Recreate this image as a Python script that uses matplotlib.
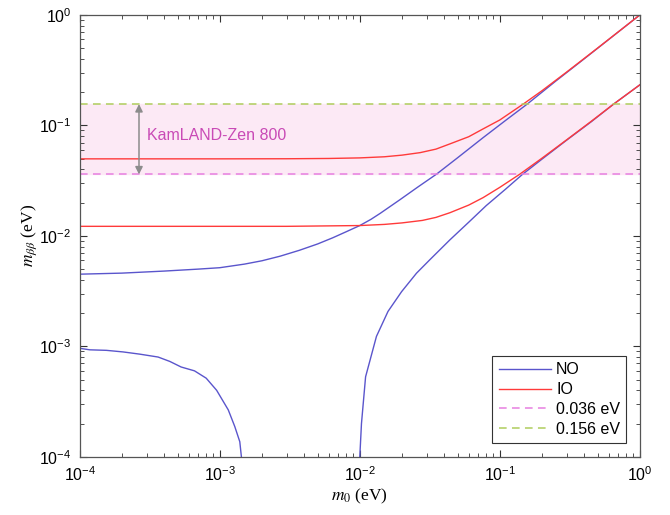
import matplotlib
matplotlib.use("Agg")
import matplotlib.pyplot as plt

plt.rcParams['font.family'] = ['Liberation Sans', 'DejaVu Sans']
plt.rcParams['mathtext.fontset'] = 'stix'

# curves (m0 in eV, m_bb in eV)
no_up_x = [1e-4, 2e-4, 4e-4, 7e-4, 1e-3, 1.5e-3, 2e-3, 2.7e-3, 3.7e-3, 5e-3, 6.4e-3, 8e-3, 1e-2, 1.2e-2,
           1.4e-2, 1.93e-2, 2.6e-2, 3.53e-2, 5e-2, 7.6e-2, 0.11, 0.158, 0.25, 0.39, 0.6, 1.0]
no_up_y = [4.5e-3, 4.6e-3, 4.8e-3, 5.0e-3, 5.15e-3, 5.55e-3, 5.95e-3, 6.55e-3, 7.4e-3, 8.45e-3, 9.6e-3, 1.09e-2,
           1.24e-2, 1.41e-2, 1.6e-2, 2.12e-2, 2.77e-2, 3.62e-2, 5.1e-2, 7.75e-2, 0.111, 0.157, 0.251, 0.39, 0.6, 1.0]

no_lo1_x = [1e-4, 1.18e-4, 1.55e-4, 2.04e-4, 2.68e-4, 3.63e-4, 4.4e-4, 5.3e-4, 6.6e-4, 8.0e-4, 9.5e-4, 1.15e-3, 1.28e-3, 1.39e-3, 1.44e-3]
no_lo1_y = [9.6e-4, 9.3e-4, 9.2e-4, 8.9e-4, 8.5e-4, 8.0e-4, 7.3e-4, 6.5e-4, 6.0e-4, 5.15e-4, 4.0e-4, 2.66e-4, 1.88e-4, 1.37e-4, 9e-5]

no_lo2_x = [1.0e-2, 1.028e-2, 1.1e-2, 1.315e-2, 1.59e-2, 1.99e-2, 2.54e-2, 3.16e-2, 4.4e-2, 6e-2, 8e-2,
            0.11, 0.145, 0.2, 0.3, 0.45, 0.65, 1.0]
no_lo2_y = [1e-4, 2.0e-4, 5.3e-4, 1.23e-3, 2.07e-3, 3.13e-3, 4.59e-3, 6.07e-3, 9.2e-3, 1.33e-2, 1.88e-2,
            0.0265, 0.036, 0.0495, 0.0735, 0.108, 0.156, 0.233]

io_up_x = [1e-4, 1e-3, 3e-3, 6e-3, 1e-2, 1.5e-2, 2e-2, 2.7e-2, 3.5e-2, 4.4e-2, 6e-2, 7.6e-2, 0.1, 0.147, 0.2, 0.3, 0.5, 1.0]
io_up_y = [0.0498, 0.0498, 0.0499, 0.0502, 0.0508, 0.052, 0.0538, 0.0567, 0.061, 0.068, 0.079, 0.093, 0.112, 0.156,
           0.206, 0.304, 0.502, 1.0]

io_lo_x = [1e-4, 3e-3, 1e-2, 1.5e-2, 2e-2, 2.8e-2, 3.5e-2, 4.4e-2, 6e-2, 7.6e-2, 0.1, 0.139, 0.2, 0.3, 0.45, 0.65, 1.0]
io_lo_y = [0.0122, 0.0122, 0.0124, 0.0127, 0.0131, 0.0138, 0.0147, 0.0162, 0.019, 0.0222, 0.0275, 0.0362, 0.0505,
           0.074, 0.109, 0.156, 0.233]

klz_low = 0.036
klz_high = 0.156

blue = '#5a55cc'
red = '#ff3a3a'
pink = '#e77ee0'
green = '#afcd5c'

fig = plt.figure(figsize=(6.7, 5.15), dpi=100)
ax = fig.add_axes([0.119, 0.113, 0.836, 0.858])

ax.axhspan(klz_low, klz_high, color='#fce9f5', zorder=0)

ax.plot(no_up_x, no_up_y, color=blue, lw=1, label='NO')
ax.plot(no_lo1_x, no_lo1_y, color=blue, lw=1)
ax.plot(no_lo2_x, no_lo2_y, color=blue, lw=1)
ax.plot(io_up_x, io_up_y, color=red, lw=1, label='IO')
ax.plot(io_lo_x, io_lo_y, color=red, lw=1)
ax.axhline(klz_low, color=pink, lw=1.1, dashes=(5, 3.5), label='0.036 eV')
ax.axhline(klz_high, color=green, lw=1.1, dashes=(5, 3.5), label='0.156 eV')

ax.annotate('', xy=(2.65e-4, klz_high), xytext=(2.65e-4, klz_low),
            arrowprops=dict(arrowstyle='<|-|>', color='#8c8c8c', lw=1.1, mutation_scale=11,
                            shrinkA=0, shrinkB=0))
ax.text(3.0e-4, 0.081, 'KamLAND-Zen 800', color='#c94ab6', fontsize=11.5, va='center', ha='left')

ax.set_xscale('log')
ax.set_yscale('log')
ax.set_xlim(1e-4, 1)
ax.set_ylim(1e-4, 1)

ax.tick_params(which='both', direction='in', top=True, right=True, colors='#333333', labelcolor='black')
ax.tick_params(which='major', length=5, labelsize=11.5, pad=6)
ax.tick_params(which='minor', length=3)
for s in ax.spines.values():
    s.set_color('#555555')
    s.set_linewidth(0.9)

ax.set_xlabel(r'$m_0$ (eV)', fontsize=12.5, family='Liberation Serif', labelpad=2)
ax.set_ylabel(r'$m_{\beta\beta}$ (eV)', fontsize=12.5, family='Liberation Serif', labelpad=0)

leg = ax.legend(loc='lower right', bbox_to_anchor=(0.976, 0.031), fontsize=11.5, handlelength=3.3,
                labelspacing=0.3, borderpad=0.4, fancybox=False, framealpha=1, edgecolor='#333333',
                handletextpad=0.3, borderaxespad=0)
leg.get_frame().set_linewidth(0.8)

fig.savefig('out.png', dpi=100)
